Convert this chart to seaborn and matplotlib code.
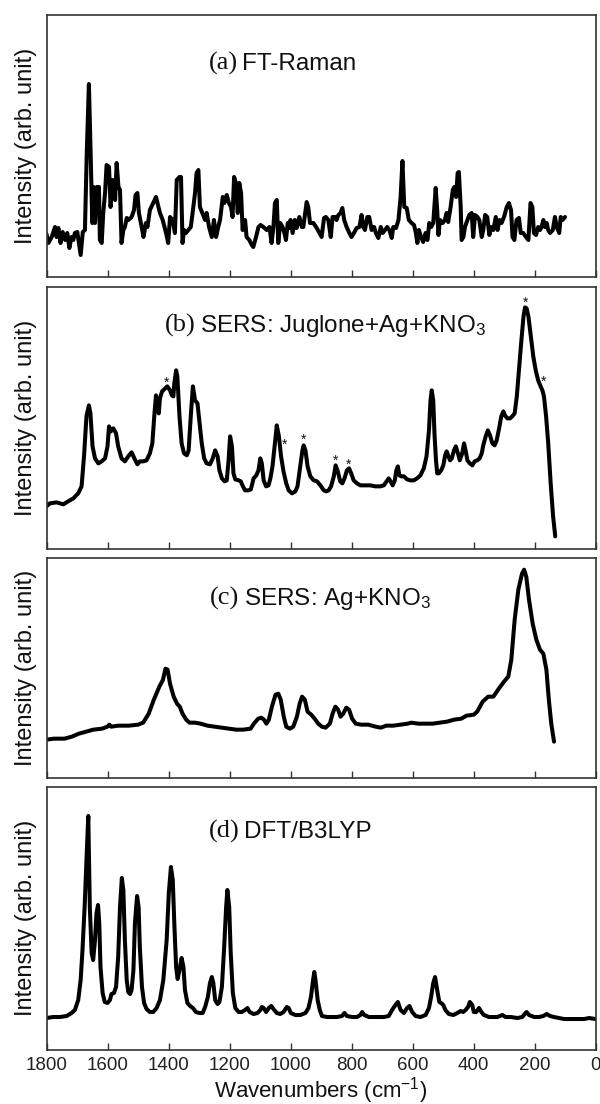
"""Stacked Raman / SERS / DFT spectra of juglone (4 panels, shared wavenumber axis)."""

import matplotlib

matplotlib.use("Agg")
import matplotlib.pyplot as plt
import pandas as pd
import seaborn as sns

# ---- data (wavenumber in cm^-1, intensity arb.) ----
FTR_WN = [
    1800, 1794, 1783, 1772, 1767, 1761, 1754, 1747, 1739, 1732,
    1725, 1718, 1712, 1707, 1699, 1692, 1688, 1681, 1674, 1668,
    1661, 1655, 1650, 1646, 1641, 1635, 1628, 1625, 1619, 1614,
    1608, 1603, 1595, 1590, 1583, 1575, 1570, 1564, 1559, 1554,
    1548, 1543, 1537, 1532, 1521, 1513, 1508, 1502, 1497, 1488,
    1482, 1474, 1469, 1461, 1450, 1441, 1433, 1428, 1419, 1408,
    1401, 1395, 1386, 1379, 1373, 1364, 1359, 1354, 1349, 1343,
    1335, 1327, 1321, 1313, 1308, 1302, 1297, 1289, 1280, 1275,
    1267, 1258, 1251, 1244, 1237, 1231, 1222, 1217, 1209, 1202,
    1195, 1190, 1185, 1179, 1173, 1168, 1162, 1157, 1149, 1144,
    1135, 1127, 1122, 1113, 1105, 1098, 1089, 1078, 1069, 1062,
    1056, 1051, 1045, 1040, 1034, 1026, 1020, 1015, 1009, 1004,
    1000, 993, 986, 980, 971, 963, 958, 952, 947, 942,
    936, 925, 914, 898, 890, 884, 876, 868, 862, 854,
    849, 843, 836, 830, 824, 816, 807, 800, 792, 783,
    774, 767, 761, 756, 748, 742, 734, 726, 720, 712,
    704, 698, 690, 683, 676, 668, 663, 654, 646, 639,
    633, 627, 619, 612, 603, 595, 589, 584, 579, 572,
    565, 557, 551, 545, 539, 532, 524, 519, 515, 510,
    501, 494, 488, 483, 475, 468, 463, 457, 452, 448,
    442, 439, 433, 428, 420, 414, 406, 401, 395, 387,
    381, 373, 368, 362, 355, 348, 343, 335, 327, 321,
    315, 308, 300, 291, 284, 277, 272, 266, 259, 251,
    245, 237, 228, 220, 213, 207, 202, 195, 188, 182,
    177, 171, 166, 160, 155, 149, 140, 133, 127, 119,
    114, 108, 100,
]
FTR_I = [
    43, 34, 40, 50, 40, 49, 34, 45, 37, 44,
    29, 40, 37, 44, 45, 30, 22, 45, 47, 124,
    193, 120, 54, 90, 54, 90, 90, 37, 34, 64,
    84, 112, 110, 70, 97, 77, 114, 90, 87, 34,
    47, 50, 59, 57, 60, 67, 82, 84, 64, 50,
    40, 54, 50, 67, 74, 80, 70, 64, 57, 44,
    34, 60, 57, 44, 97, 100, 100, 34, 47, 44,
    47, 50, 64, 84, 104, 107, 70, 64, 57, 64,
    50, 40, 57, 40, 50, 57, 80, 74, 82, 74,
    70, 60, 100, 94, 64, 94, 84, 47, 57, 40,
    37, 32, 30, 40, 50, 52, 50, 47, 50, 34,
    50, 74, 77, 34, 54, 50, 44, 37, 54, 49,
    57, 44, 57, 49, 60, 50, 50, 64, 75, 70,
    54, 54, 49, 40, 59, 60, 57, 40, 60, 60,
    57, 62, 64, 69, 57, 50, 44, 40, 44, 49,
    50, 62, 50, 47, 60, 60, 47, 50, 44, 39,
    50, 44, 47, 50, 47, 39, 50, 49, 57, 80,
    116, 70, 69, 57, 54, 52, 44, 34, 47, 40,
    35, 44, 37, 54, 50, 54, 89, 67, 42, 57,
    54, 57, 64, 55, 70, 87, 90, 80, 104, 105,
    70, 37, 40, 50, 57, 62, 64, 40, 62, 60,
    57, 40, 47, 62, 60, 42, 50, 47, 60, 47,
    57, 54, 60, 70, 74, 67, 40, 37, 57, 59,
    44, 44, 40, 37, 74, 70, 44, 42, 50, 47,
    50, 57, 50, 54, 47, 44, 47, 60, 50, 44,
    60, 57, 60,
]

SERS_J_WN = [
    1800, 1789, 1767, 1745, 1729, 1712, 1696, 1685, 1677, 1669,
    1661, 1656, 1649, 1641, 1630, 1619, 1608, 1600, 1595, 1589,
    1581, 1572, 1565, 1554, 1543, 1532, 1521, 1512, 1502, 1494,
    1483, 1472, 1461, 1453, 1446, 1441, 1437, 1432, 1428, 1421,
    1411, 1404, 1395, 1389, 1384, 1381, 1375, 1371, 1364, 1357,
    1349, 1340, 1334, 1327, 1320, 1313, 1305, 1299, 1291, 1283,
    1275, 1264, 1255, 1247, 1239, 1233, 1225, 1216, 1209, 1203,
    1198, 1192, 1187, 1181, 1170, 1163, 1156, 1149, 1138, 1130,
    1121, 1112, 1105, 1099, 1094, 1088, 1080, 1072, 1066, 1059,
    1050, 1045, 1038, 1031, 1023, 1014, 1006, 995, 984, 977,
    968, 961, 957, 951, 944, 935, 924, 913, 902, 891,
    883, 875, 867, 858, 852, 845, 837, 830, 823, 815,
    808, 801, 793, 782, 771, 754, 738, 722, 705, 694,
    685, 678, 672, 665, 658, 653, 648, 643, 637, 628,
    618, 607, 596, 585, 574, 563, 554, 546, 541, 537,
    532, 528, 523, 519, 514, 506, 499, 493, 488, 483,
    477, 471, 464, 458, 451, 445, 437, 431, 426, 420,
    412, 404, 396, 388, 380, 373, 368, 360, 353, 346,
    338, 331, 324, 316, 309, 302, 297, 289, 280, 273,
    265, 258, 251, 243, 236, 231, 226, 220, 212, 204,
    196, 188, 180, 174, 169, 162, 155, 147, 139, 132,
]
SERS_J_I = [
    43, 46, 47, 45, 48, 51, 56, 63, 93, 133,
    144, 136, 103, 91, 86, 88, 91, 103, 123, 118,
    121, 116, 103, 91, 88, 93, 97, 91, 85, 88,
    88, 89, 96, 106, 136, 154, 146, 136, 151, 158,
    161, 163, 159, 154, 153, 166, 179, 173, 133, 106,
    96, 94, 99, 133, 163, 149, 146, 129, 106, 91,
    86, 85, 91, 99, 93, 79, 71, 68, 69, 89,
    113, 103, 76, 70, 69, 68, 63, 59, 59, 60,
    71, 74, 79, 91, 86, 69, 63, 64, 71, 83,
    109, 124, 113, 93, 78, 66, 59, 56, 58, 63,
    83, 99, 104, 99, 83, 73, 69, 68, 64, 59,
    58, 59, 63, 73, 84, 78, 68, 66, 71, 79,
    81, 76, 69, 66, 64, 64, 64, 63, 63, 64,
    68, 71, 68, 64, 69, 79, 83, 74, 73, 73,
    70, 69, 69, 71, 74, 81, 93, 119, 149, 159,
    149, 116, 89, 76, 76, 79, 84, 94, 98, 94,
    89, 91, 99, 103, 96, 89, 96, 106, 99, 89,
    86, 84, 88, 89, 91, 96, 104, 113, 119, 114,
    106, 104, 109, 121, 133, 138, 134, 131, 131, 133,
    136, 153, 179, 209, 233, 242, 241, 233, 213, 193,
    179, 169, 163, 159, 153, 133, 106, 66, 33, 13,
]
# bands marked with an asterisk in panel (b)
STAR_WN = [1406, 1020, 957, 852, 809, 229, 172]
STAR_I = [170, 108, 113, 92, 88, 250, 171]

SERS_AG_WN = [
    1800, 1776, 1741, 1717, 1694, 1670, 1647, 1618, 1600, 1594,
    1588, 1565, 1530, 1500, 1483, 1465, 1448, 1430, 1418, 1410,
    1403, 1395, 1383, 1372, 1363, 1354, 1342, 1331, 1313, 1295,
    1272, 1249, 1225, 1202, 1178, 1155, 1131, 1120, 1106, 1096,
    1087, 1079, 1071, 1061, 1049, 1040, 1032, 1022, 1014, 1002,
    991, 979, 970, 962, 953, 944, 932, 921, 909, 897,
    885, 871, 862, 853, 844, 836, 827, 817, 808, 798,
    786, 768, 745, 721, 704, 686, 663, 639, 616, 604,
    581, 557, 534, 511, 487, 464, 440, 423, 399, 388,
    370, 352, 335, 317, 300, 286, 276, 265, 253, 241,
    234, 227, 218, 206, 194, 182, 171, 161, 153, 145,
    136,
]
SERS_AG_I = [
    38, 39, 39, 41, 44, 46, 48, 49, 51, 53,
    51, 52, 52, 53, 55, 64, 78, 91, 98, 109,
    108, 94, 81, 74, 71, 64, 58, 55, 55, 54,
    52, 51, 50, 49, 48, 48, 49, 54, 59, 60,
    58, 54, 58, 71, 83, 84, 78, 61, 51, 49,
    51, 61, 74, 81, 78, 66, 63, 59, 54, 51,
    50, 54, 64, 71, 68, 61, 64, 70, 68, 59,
    54, 53, 53, 51, 50, 52, 52, 53, 54, 55,
    54, 54, 54, 55, 56, 58, 59, 62, 63, 66,
    76, 81, 81, 89, 96, 101, 118, 158, 188, 204,
    208, 201, 178, 154, 138, 128, 124, 108, 78, 54,
    36,
]

DFT_WN = [
    1800, 1778, 1756, 1734, 1718, 1707, 1696, 1688, 1682, 1675,
    1669, 1663, 1658, 1652, 1647, 1641, 1636, 1631, 1627, 1623,
    1616, 1609, 1600, 1592, 1587, 1579, 1572, 1565, 1559, 1553,
    1548, 1543, 1537, 1532, 1526, 1521, 1515, 1510, 1503, 1498,
    1494, 1487, 1480, 1472, 1461, 1450, 1439, 1428, 1417, 1406,
    1399, 1392, 1386, 1381, 1375, 1370, 1364, 1357, 1351, 1346,
    1338, 1329, 1320, 1310, 1299, 1288, 1280, 1271, 1264, 1258,
    1253, 1247, 1239, 1233, 1225, 1218, 1211, 1207, 1201, 1196,
    1189, 1181, 1170, 1160, 1149, 1141, 1134, 1121, 1108, 1099,
    1094, 1088, 1080, 1071, 1063, 1056, 1045, 1034, 1023, 1012,
    1006, 999, 984, 968, 951, 941, 933, 926, 922, 918,
    911, 904, 897, 880, 864, 848, 831, 823, 815, 798,
    782, 771, 765, 758, 743, 727, 711, 694, 678, 667,
    656, 648, 639, 628, 618, 610, 601, 590, 574, 557,
    546, 539, 532, 526, 519, 512, 506, 499, 492, 481,
    466, 453, 442, 434, 426, 418, 412, 404, 399, 391,
    382, 374, 366, 349, 333, 322, 305, 295, 278, 256,
    240, 232, 226, 218, 201, 185, 171, 160, 149, 136,
    119, 103, 86, 70, 54, 37, 21, 0,
]
DFT_I = [
    32, 33, 33, 34, 37, 40, 50, 70, 100, 143,
    190, 234, 143, 97, 90, 110, 137, 145, 127, 83,
    57, 48, 47, 50, 56, 57, 63, 93, 143, 172,
    160, 110, 70, 58, 56, 60, 80, 127, 154, 143,
    103, 63, 47, 41, 38, 38, 42, 50, 70, 110,
    157, 183, 170, 127, 83, 71, 80, 92, 83, 60,
    47, 44, 42, 38, 37, 37, 43, 53, 67, 73,
    67, 50, 46, 48, 63, 100, 143, 160, 143, 97,
    57, 42, 38, 38, 40, 42, 38, 36, 37, 40,
    43, 42, 38, 42, 44, 41, 37, 36, 38, 43,
    42, 37, 35, 35, 37, 42, 53, 70, 78, 70,
    50, 40, 34, 33, 33, 33, 34, 37, 34, 33,
    33, 35, 38, 35, 33, 33, 33, 33, 34, 40,
    45, 48, 40, 37, 42, 44, 38, 34, 33, 35,
    42, 53, 67, 73, 60, 48, 47, 45, 40, 36,
    35, 37, 39, 38, 40, 43, 48, 45, 38, 38,
    42, 38, 35, 33, 33, 33, 35, 33, 33, 32,
    33, 36, 38, 35, 33, 33, 34, 36, 34, 33,
    32, 31, 31, 31, 31, 31, 32, 31,
]

TAGS = ["(a)", "(b)", "(c)", "(d)"]
TITLES = ["FT-Raman", "SERS: Juglone+Ag+KNO$_3$", "SERS: Ag+KNO$_3$", "DFT/B3LYP"]
XTICKS = [1800, 1600, 1400, 1200, 1000, 800, 600, 400, 200, 0]


def main() -> None:
    sns.set_theme(style="white")
    plt.rcParams["font.family"] = ["Liberation Sans", "DejaVu Sans"]
    plt.rcParams["mathtext.fontset"] = "custom"
    plt.rcParams["mathtext.rm"] = "Liberation Sans"
    plt.rcParams["mathtext.default"] = "regular"
    plt.rcParams["text.color"] = "#111111"
    plt.rcParams["axes.labelcolor"] = "#111111"
    plt.rcParams["xtick.color"] = "#222222"

    series = [
        (FTR_WN, FTR_I),
        (SERS_J_WN, SERS_J_I),
        (SERS_AG_WN, SERS_AG_I),
        (DFT_WN, DFT_I),
    ]

    fig = plt.figure(figsize=(6.0, 11.04), dpi=100)

    # panel boxes in figure fractions, and y-range of each panel
    rects = [
        [0.0775, 0.7491, 0.915, 0.2373],
        [0.0775, 0.5024, 0.915, 0.2373],
        [0.0775, 0.2956, 0.915, 0.1987],
        [0.0775, 0.0489, 0.915, 0.2385],
    ]
    ytops = [262, 262, 219.4, 263.3]
    title_x = [0.356, 0.2796, 0.3596, 0.3596]
    title_y = [0.79, 0.83, 0.787, 0.805]

    for k, ((wn, inten), rect) in enumerate(zip(series, rects)):
        ax = fig.add_axes(rect)
        df = pd.DataFrame({"wn": wn, "I": inten})
        sns.lineplot(data=df, x="wn", y="I", sort=False, estimator=None,
                     color="black", lw=2.9, ax=ax, legend=False)
        ax.set_xlim(1800, 0)
        ax.set_ylim(0, ytops[k])
        ax.set_xticks(XTICKS)
        ax.set_yticks([])
        ax.tick_params(axis="x", direction="in", length=5, width=1,
                       color="#333333", bottom=True, top=False, pad=5,
                       labelsize=13.5, labelbottom=(k == 3))
        for sp in ax.spines.values():
            sp.set_color("#333333")
            sp.set_linewidth(1.2)

        ax.set_ylabel("Intensity (arb. unit)", fontsize=17)
        ax.yaxis.set_label_coords(-0.018, 0.5)
        if k == 3:
            ax.set_xlabel("Wavenumbers (cm$^{-1}$)", fontsize=16, labelpad=0.5)
        else:
            ax.set_xlabel("")

        # panel caption: serif tag + sans description
        ax.text(title_x[k] - 0.008, title_y[k], TAGS[k], transform=ax.transAxes,
                ha="right", va="baseline", fontsize=19,
                family=["Liberation Serif", "DejaVu Serif"])
        ax.text(title_x[k], title_y[k], TITLES[k], transform=ax.transAxes,
                ha="left", va="baseline", fontsize=17.5)

        if k == 1:
            for x, y in zip(STAR_WN, STAR_I):
                ax.annotate("*", (x, y), xytext=(0, -5.5), textcoords="offset points",
                            ha="center", va="baseline", fontsize=10)

    fig.savefig("out.png", dpi=100)


if __name__ == "__main__":
    main()
